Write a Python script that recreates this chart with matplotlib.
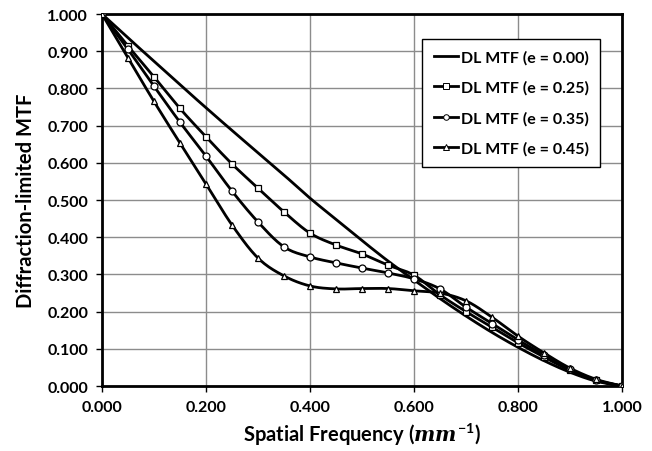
import numpy as np
import matplotlib
matplotlib.use("Agg")
import matplotlib.pyplot as plt
from matplotlib.lines import Line2D

freq = [0.00, 0.05, 0.10, 0.15, 0.20, 0.25, 0.30, 0.35, 0.40, 0.45, 0.50,
        0.55, 0.60, 0.65, 0.70, 0.75, 0.80, 0.85, 0.90, 0.95, 1.00]
mtf_e000 = [1.000, 0.936, 0.873, 0.810, 0.748, 0.687, 0.627, 0.567, 0.505, 0.448, 0.391,
            0.336, 0.285, 0.235, 0.188, 0.144, 0.104, 0.068, 0.037, 0.013, 0.000]
mtf_e025 = [1.000, 0.914, 0.831, 0.746, 0.670, 0.597, 0.532, 0.468, 0.411, 0.379, 0.355,
            0.325, 0.298, 0.245, 0.200, 0.158, 0.116, 0.078, 0.042, 0.015, 0.000]
mtf_e035 = [1.000, 0.905, 0.806, 0.709, 0.618, 0.524, 0.441, 0.374, 0.347, 0.331, 0.317,
            0.304, 0.288, 0.261, 0.212, 0.168, 0.124, 0.083, 0.045, 0.016, 0.000]
mtf_e045 = [1.000, 0.882, 0.765, 0.653, 0.543, 0.433, 0.344, 0.296, 0.269, 0.261, 0.262,
            0.262, 0.256, 0.250, 0.229, 0.185, 0.134, 0.089, 0.048, 0.018, 0.000]
labels = ["DL MTF (e = 0.00)", "DL MTF (e = 0.25)", "DL MTF (e = 0.35)", "DL MTF (e = 0.45)"]
markers = [None, "s", "o", "^"]


def smooth(x, y, n=12):
    # Catmull-Rom spline through the points (drawing only)
    x = np.asarray(x, float); y = np.asarray(y, float)
    P = np.column_stack([x, y])
    P = np.vstack([2 * P[0] - P[1], P, 2 * P[-1] - P[-2]])
    out = []
    t = np.linspace(0, 1, n, endpoint=False)[:, None]
    for i in range(1, len(P) - 2):
        p0, p1, p2, p3 = P[i - 1], P[i], P[i + 1], P[i + 2]
        seg = 0.5 * ((2 * p1) + (-p0 + p2) * t + (2 * p0 - 5 * p1 + 4 * p2 - p3) * t ** 2
                     + (-p0 + 3 * p1 - 3 * p2 + p3) * t ** 3)
        out.append(seg)
    out.append(P[-2][None, :])
    S = np.vstack(out)
    return S[:, 0], S[:, 1]


plt.rcParams['font.family'] = ['Lato', 'DejaVu Sans']
plt.rcParams['font.weight'] = 'bold'
plt.rcParams['mathtext.fontset'] = 'custom'
plt.rcParams['mathtext.it'] = 'DejaVu Serif:italic'
plt.rcParams['mathtext.rm'] = 'Lato:bold'

fig = plt.figure(figsize=(6.52, 4.52), dpi=100)
ax = fig.add_axes([0.1564, 0.1438, 0.954 - 0.1564, 0.9668 - 0.1438])

series = [mtf_e000, mtf_e025, mtf_e035, mtf_e045]
for ys, lab, mk in zip(series, labels, markers):
    sx, sy = smooth(freq, ys)
    ax.plot(sx, sy, color='black', lw=2.0, zorder=3)
    ax.plot(freq, ys, linestyle='none', marker=mk if mk else 'None', markersize=5,
            markerfacecolor='white', markeredgecolor='black', markeredgewidth=0.9, zorder=4)

handles = [Line2D([], [], color='black', lw=2.0, marker=mk if mk else 'None', markersize=4,
                  markerfacecolor='white', markeredgecolor='black', markeredgewidth=0.7)
           for mk in markers]
leg = ax.legend(handles, labels, loc='upper right', bbox_to_anchor=(0.973, 0.955),
                frameon=True, fancybox=False, edgecolor='black', framealpha=1,
                prop={'family': 'Lato', 'weight': 'bold', 'size': 11.5},
                handlelength=1.5, handletextpad=0.2, labelspacing=1.0, borderpad=0.7)
leg.get_frame().set_linewidth(1.0)

ax.set_xlim(0, 1)
ax.set_ylim(0, 1)
ax.set_xticks(np.arange(0, 1.01, 0.2))
ax.set_yticks(np.arange(0, 1.01, 0.1))
ax.set_xticklabels([f"{v:.3f}" for v in np.arange(0, 1.01, 0.2)])
ax.set_yticklabels([f"{v:.3f}" for v in np.arange(0, 1.01, 0.1)])
ax.tick_params(labelsize=11.5, length=4, width=1, pad=6, direction='out')
for lab in ax.get_xticklabels() + ax.get_yticklabels():
    lab.set_fontweight('bold')
ax.grid(True, color='#8c8c8c', lw=1.0)
ax.set_axisbelow(True)
for s in ax.spines.values():
    s.set_linewidth(2.0)
    s.set_color('black')

ax.set_xlabel(r'Spatial Frequency ($mm^{\mathregular{-1}}$)', fontsize=14.5, fontweight='bold', labelpad=5)
ax.set_ylabel('Diffraction-limited MTF', fontsize=14.5, fontweight='bold', labelpad=8)

fig.savefig('out.png', dpi=100)
